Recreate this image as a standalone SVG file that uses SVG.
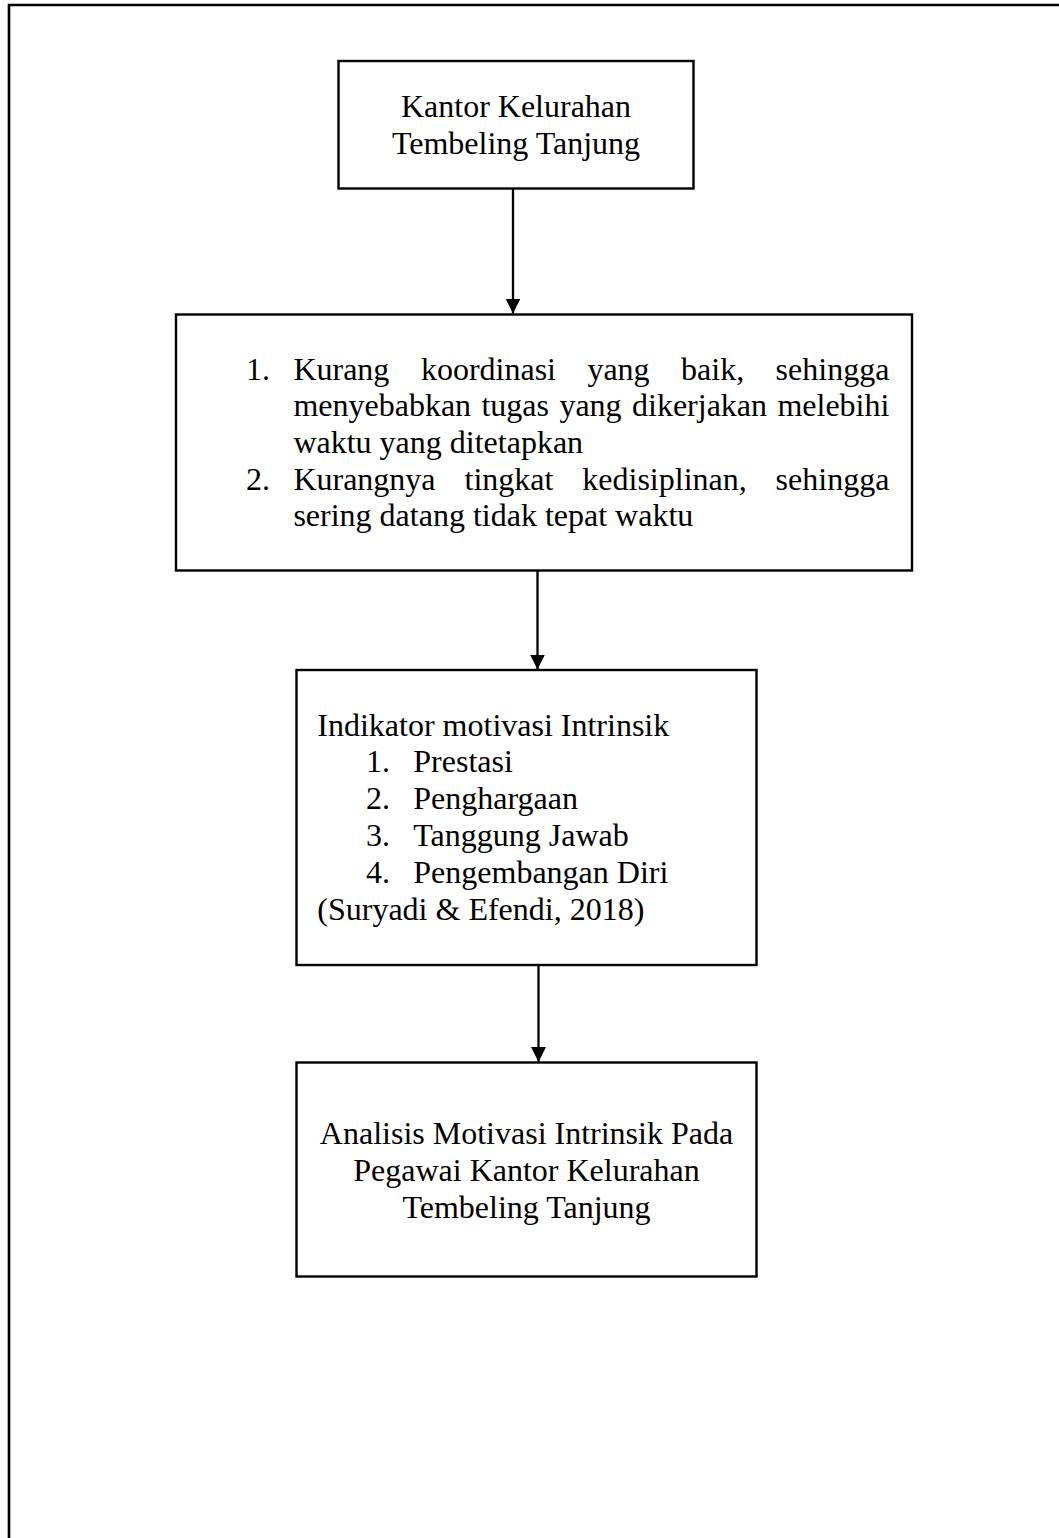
<svg xmlns="http://www.w3.org/2000/svg" width="1059" height="1538" viewBox="0 0 1059 1538">
<style>
.box{fill:#fff;stroke:#000;stroke-width:2.4}
.t{font-family:"Liberation Serif","Times New Roman",serif;font-size:32px;fill:#000}
.c{text-anchor:middle}
.ln{stroke:#000;stroke-width:2.3;fill:none}
.fr{stroke:#000;stroke-width:2.6;fill:none}
</style>
<defs>
<marker id="ah" markerUnits="userSpaceOnUse" markerWidth="16" markerHeight="16" viewBox="0 0 16 16" refX="15" refY="8" orient="auto">
<path d="M0,0.5 L15,8 L0,15.5 Z" fill="#000"/>
</marker>
</defs>
<rect width="1059" height="1538" fill="#fff"/>
<g id="frame">
<path class="fr" d="M9,1538 L9,5 L1059,5"/>
</g>
<g id="node1">
<rect class="box" x="338.5" y="61" width="355" height="127.5"/>
<text class="t c" x="516" y="116.5">Kantor Kelurahan</text>
<text class="t c" x="516" y="153.5">Tembeling Tanjung</text>
</g>
<g id="node2">
<rect class="box" x="176" y="314.5" width="736" height="256"/>
<text class="t" y="379.5"><tspan x="246">1.</tspan><tspan x="293.4">Kurang</tspan><tspan x="420.9">koordinasi</tspan><tspan x="587.4">yang</tspan><tspan x="681.1">baik,</tspan><tspan x="775.6">sehingga</tspan></text>
<text class="t" y="416.2"><tspan x="293.4">menyebabkan</tspan><tspan x="481.4">tugas</tspan><tspan x="559.4">yang</tspan><tspan x="632">dikerjakan</tspan><tspan x="777.4">melebihi</tspan></text>
<text class="t" x="293.4" y="452.9">waktu yang ditetapkan</text>
<text class="t" y="489.6"><tspan x="246">2.</tspan><tspan x="293.4">Kurangnya</tspan><tspan x="464.5">tingkat</tspan><tspan x="582.3">kedisiplinan,</tspan><tspan x="775.6">sehingga</tspan></text>
<text class="t" x="293.4" y="526.3">sering datang tidak tepat waktu</text>
</g>
<g id="node3">
<rect class="box" x="296.5" y="670" width="460" height="295"/>
<text class="t" x="317.3" y="735.5">Indikator motivasi Intrinsik</text>
<text class="t" y="772.3"><tspan x="366">1.</tspan><tspan x="413.3">Prestasi</tspan></text>
<text class="t" y="809.1"><tspan x="366">2.</tspan><tspan x="413.3">Penghargaan</tspan></text>
<text class="t" y="845.9"><tspan x="366">3.</tspan><tspan x="413.3">Tanggung Jawab</tspan></text>
<text class="t" y="882.7"><tspan x="366">4.</tspan><tspan x="413.3">Pengembangan Diri</tspan></text>
<text class="t" x="317.3" y="919.5">(Suryadi &amp; Efendi, 2018)</text>
</g>
<g id="node4">
<rect class="box" x="296.5" y="1062.5" width="460" height="214"/>
<text class="t c" x="526.5" y="1143.5">Analisis Motivasi Intrinsik Pada</text>
<text class="t c" x="526.5" y="1181">Pegawai Kantor Kelurahan</text>
<text class="t c" x="526.5" y="1218.3">Tembeling Tanjung</text>
</g>
<g id="connectors">
<line class="ln" x1="513" y1="188.5" x2="513" y2="313.5" marker-end="url(#ah)"/>
<line class="ln" x1="537.5" y1="570.5" x2="537.5" y2="669.5" marker-end="url(#ah)"/>
<line class="ln" x1="538.5" y1="965" x2="538.5" y2="1062" marker-end="url(#ah)"/>
</g>
</svg>
